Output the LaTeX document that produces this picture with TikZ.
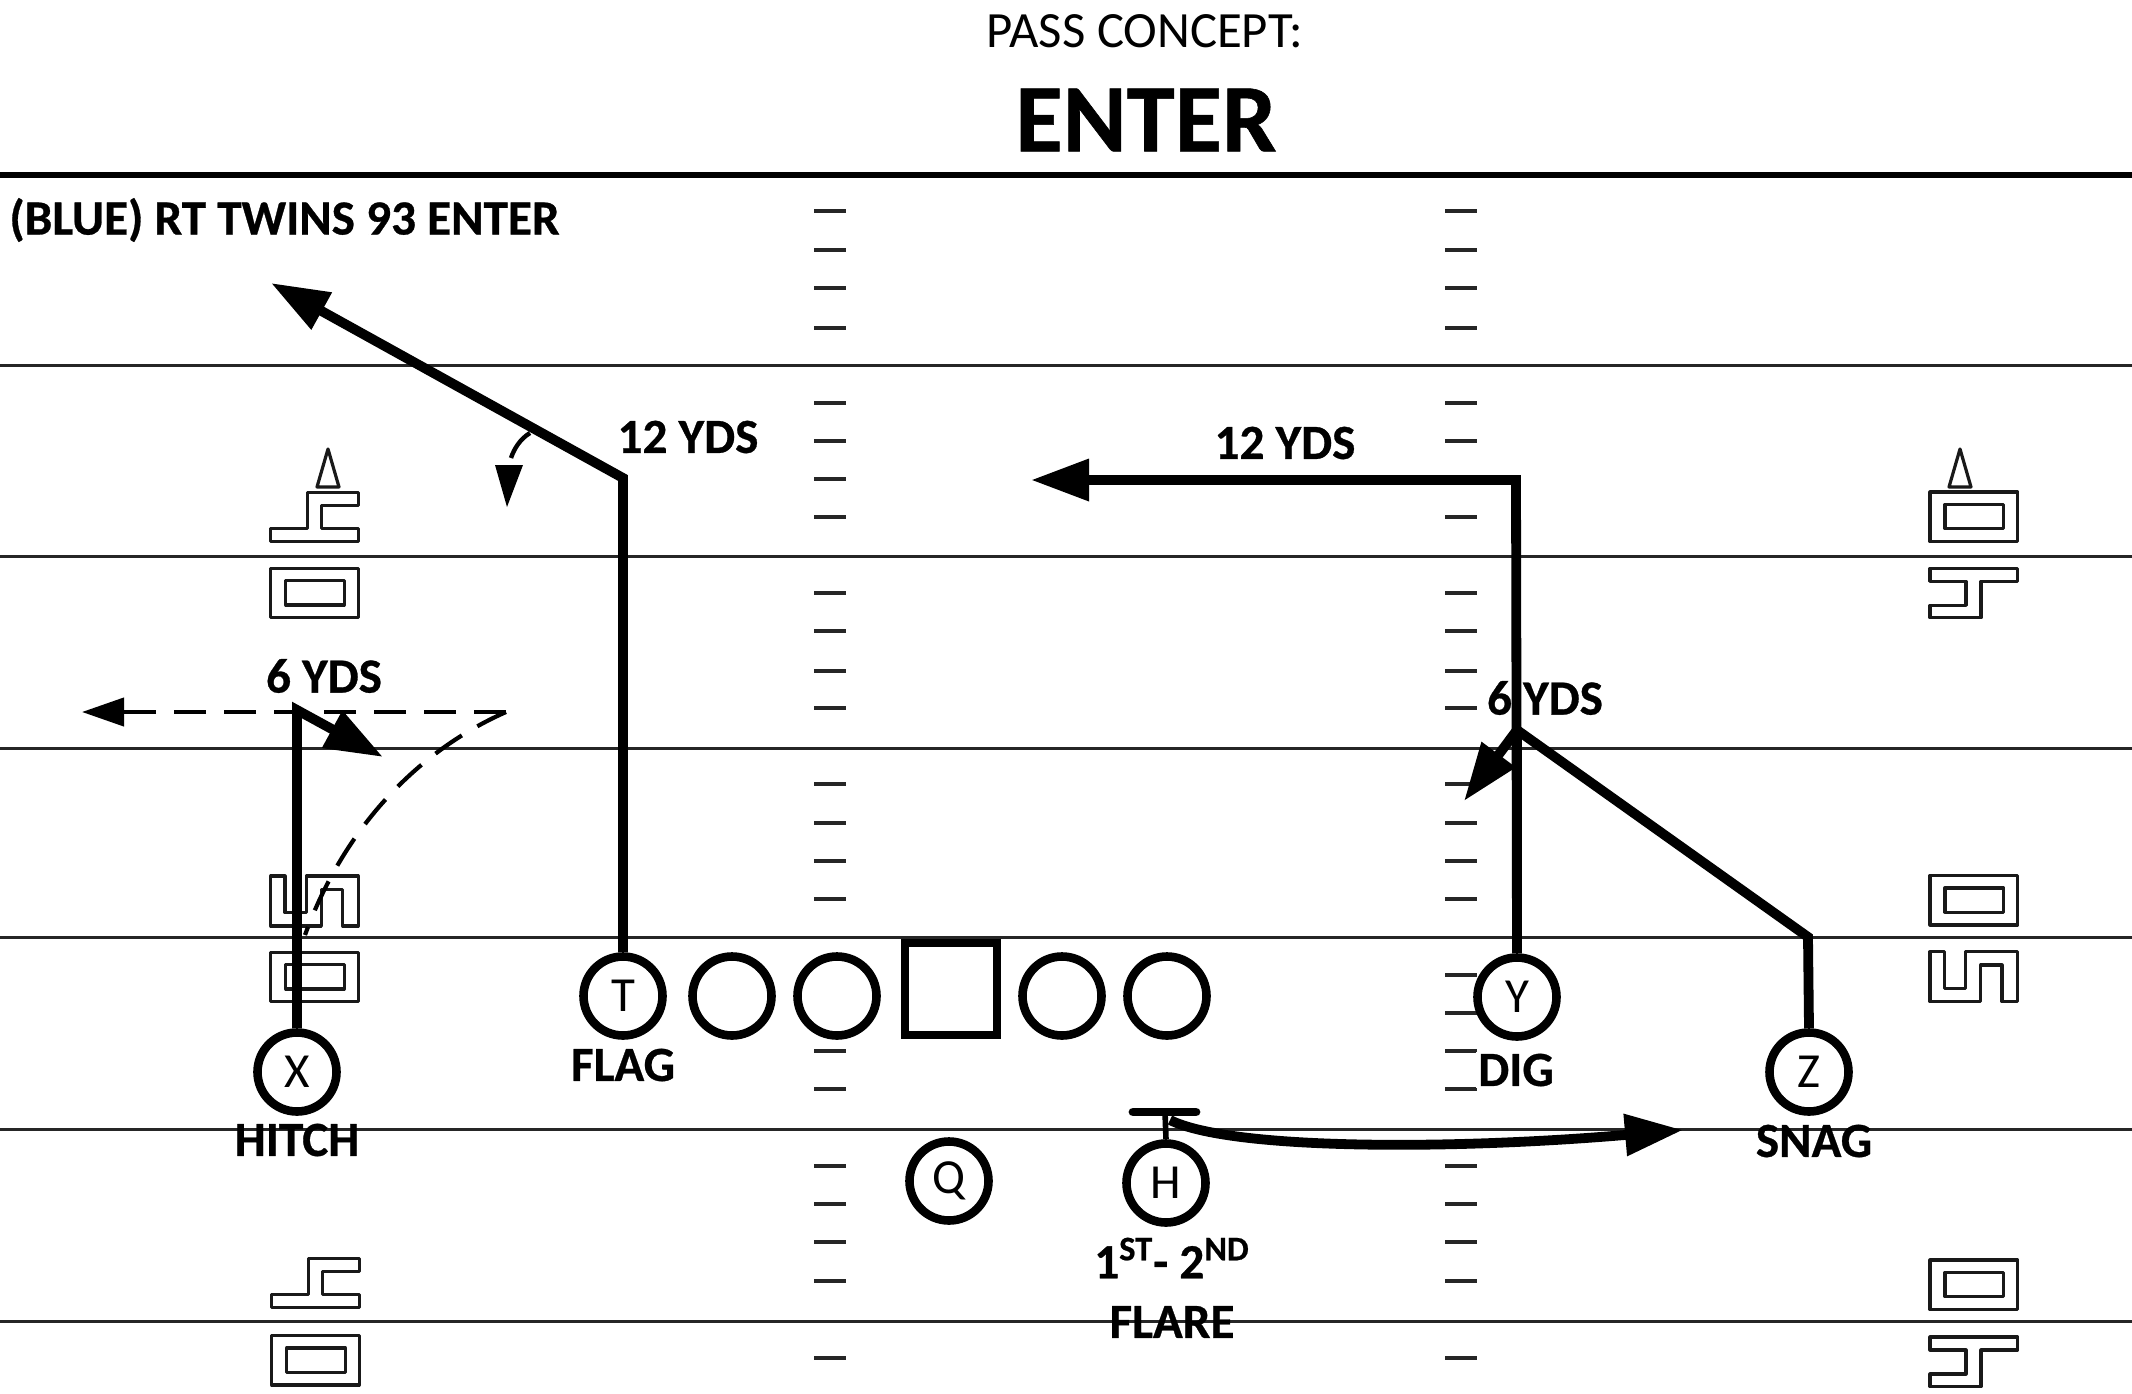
\documentclass[tikz,border=0pt]{standalone}
\usepackage{fontspec}
\setmainfont[BoldFeatures={FakeBold=0.6}]{Carlito}
\usetikzlibrary{arrows.meta}
\tikzset{
  fieldline/.style={line width=1.5pt,black!85},
  hashmark/.style={line width=1.6pt,black!85},
  symline/.style={line width=1.6pt,black!90,line join=round},
  player/.style={circle,draw,fill=white,line width=4.3pt,minimum size=39.5pt,inner sep=0pt,font=\fontsize{24.5}{28}\selectfont},
  olineman/.style={circle,draw,fill=white,line width=4.3pt,minimum size=39.5pt,inner sep=0pt},
  centerman/.style={rectangle,draw,fill=white,line width=4.3pt,minimum size=46pt,inner sep=0pt},
  routeline/.style={line width=4.9pt,line join=miter},
  bighead/.style={-{Triangle[length=29pt,width=20pt]}},
  optline/.style={line width=2.1pt,dash pattern=on 16pt off 9pt},
  tag/.style={font=\fontsize{24.6}{27}\selectfont\bfseries,inner sep=0pt},
  boxsym/.pic={\draw[symline] (0,0) rectangle (87.5,49.5);\draw[symline] (15,12.4) rectangle (73.5,36.7);},
  stepsym/.pic={\draw[symline] (0,36) -- (37,36) -- (37,0) -- (87.5,0) -- (87.5,13) -- (51,13) -- (51,36) -- (87.5,36) -- (87.5,49.5) -- (0,49.5) -- cycle;},
  istepsym/.pic={\draw[symline] (0,0) -- (87.5,0) -- (87.5,13) -- (51,13) -- (51,49.5) -- (0,49.5) -- (0,37) -- (36,37) -- (36,13) -- (0,13) -- cycle;},
  unsym/.pic={\draw[symline] (0,0) -- (14.3,0) -- (14.3,36.7) -- (35.7,36.7) -- (35.7,0) -- (87.5,0) -- (87.5,50) -- (72,50) -- (72,13.3) -- (50.7,13.3) -- (50.7,50) -- (0,50) -- cycle;},
  triasym/.pic={\draw[symline] (11,0) -- (22,38) -- (0,38) -- cycle;},
}
\begin{document}
\begin{tikzpicture}[x=0.5pt,y=-0.5pt]
\path[use as bounding box,fill=white] (0,0) rectangle (2132,1393);
% field lines
\draw[line width=2.8pt] (0,175) -- (2132,175);
\foreach \yy in {365,556,748,937,1129,1321} \draw[fieldline] (0,\yy) -- (2132,\yy);
% hash marks
\foreach \yy in {211,250,288,328,403,441,479,517,593,631,671,708,784,823,861,899,975,1013,1051,1089,1166,1204,1242,1281,1358} {
  \draw[hashmark] (814,\yy) -- (846,\yy);
  \draw[hashmark] (1445,\yy) -- (1477,\yy);
}
% line symbols
\pic at (317,449) {triasym};
\pic at (270.7,492.3) {stepsym};
\pic at (270.7,568.3) {boxsym};
\pic at (270.7,876) {unsym};
\pic at (270.7,952.3) {boxsym};
\pic at (271.7,1258.3) {stepsym};
\pic at (271.7,1335.5) {boxsym};
\pic at (1949,449) {triasym};
\pic at (1930,492) {boxsym};
\pic at (1930,568.3) {istepsym};
\pic at (1930,875.5) {boxsym};
\pic at (1930,951.7) {unsym};
\pic at (1930,1260) {boxsym};
\pic at (1930,1337) {istepsym};
% texts
\node[inner sep=0pt,font=\fontsize{25.4}{28}\selectfont] (ttl) at (1145,31) {PASS CONCEPT:};
\node[inner sep=0pt,font=\fontsize{48.5}{52}\selectfont\bfseries] (big) at (1146,120) {ENTER};
\node[tag,anchor=west] (call) at (9,220) {(BLUE) RT TWINS 93 ENTER};
\node[tag] (t12) at (688,437) {12 YDS};
\node[tag] (y12) at (1285,443) {12 YDS};
\node[tag] (x6) at (324,676) {6 YDS};
\node[tag] (y6) at (1545,698) {6 YDS};
\node[tag] (lflag) at (623,1065) {FLAG};
\node[tag] (lhitch) at (297,1140) {HITCH};
\node[tag,fill=white,inner sep=1pt] (ldig) at (1516,1070) {DIG};
\node[tag] (lsnag) at (1814,1141) {SNAG};
\node[tag] (lrank) at (1172,1258) {1\textsuperscript{ST}- 2\textsuperscript{ND}};
\node[tag] (lflare) at (1172,1322) {FLARE};
% players
\node[player] (X) at (297,1072) {X};
\node[player] (T) at (623,996) {T};
\node[olineman] (o1) at (732,996) {};
\node[olineman] (o2) at (837,996) {};
\node[centerman] (C) at (951,989) {};
\node[olineman] (o3) at (1062,996) {};
\node[olineman] (o4) at (1167,996) {};
\node[player] (Y) at (1517,997) {Y};
\node[player] (Z) at (1809,1072) {Z};
\node[player] (Q) at (949,1181) {Q};
\node[player] (H) at (1166,1183) {H};
% route coordinates
\coordinate (xb) at (297,710);
\coordinate (xe) at (383,757);
\coordinate (xl) at (82,712);
\coordinate (xr) at (506,712);
\coordinate (xc) at (305,935);
\coordinate (tb) at (623,478);
\coordinate (te) at (271,283);
\coordinate (ya) at (1516,480);
\coordinate (ye) at (1031,480);
\coordinate (zb) at (1808,937);
\coordinate (zm) at (1517,730);
\coordinate (ze) at (1464,801);
\coordinate (hb) at (1165,1112);
\coordinate (hbl) at (1133,1112);
\coordinate (hbr) at (1196,1112);
\coordinate (hs) at (1170,1120);
\coordinate (he) at (1683,1130);
\coordinate (aa) at (530,433);
\coordinate (ab) at (511,458);
% dashed options
\draw[optline,-{Triangle[length=21pt,width=14pt]}] (xr) -- (xl);
\draw[optline] (xr) .. controls (420,750) and (345,825) .. (xc);
% routes
\draw[routeline,bighead] (X.north) -- (xb) -- (xe);
\draw[routeline,bighead] (T.north) -- (tb) -- (te);
\draw[routeline,bighead] (Y.north) -- (ya) -- (ye);
\draw[routeline] (Y.north) -- (zm);
\draw[routeline,bighead] (Z.north) -- (zb) -- (zm) -- (ze);
\draw[line width=2.8pt] (H.north) -- (hb);
\draw[line width=4.4pt,line cap=round] (hbl) -- (hbr);
\draw[routeline,bighead] (hs) .. controls (1230,1150) and (1450,1150) .. (he);
% angle arrow on the flag
\draw[line width=2.2pt] (aa) .. controls (520,439) and (514,449) .. (ab);
\fill (495,465) -- (523,465) -- (507,507) -- cycle;
\end{tikzpicture}
\end{document}
